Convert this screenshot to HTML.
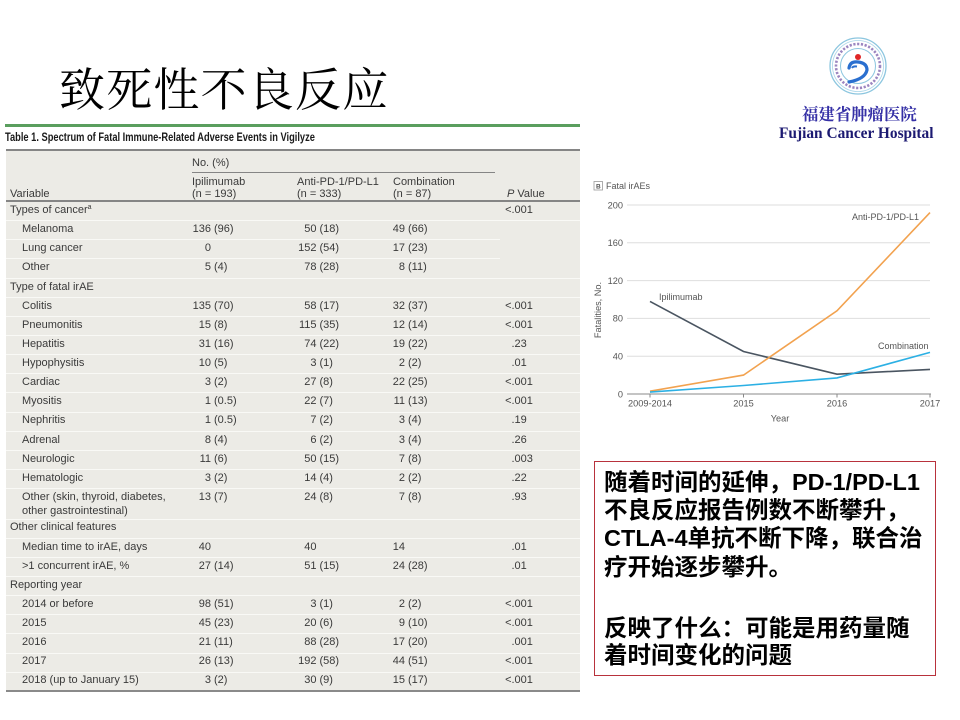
<!DOCTYPE html>
<html><head><meta charset="utf-8">
<style>
*{margin:0;padding:0;box-sizing:border-box}
html,body{width:960px;height:720px;background:#fff;overflow:hidden}
body{position:relative;font-family:"Liberation Sans","Noto Sans CJK SC",sans-serif}
.abs{position:absolute}
.title{position:absolute;left:59px;top:66px;font:46px/50px "Liberation Serif","Noto Serif CJK SC",serif;letter-spacing:1.2px;color:#000;white-space:nowrap}
.ttl{position:absolute;left:5px;top:129px;font:bold 12px/16px "Liberation Sans",sans-serif;color:#1a1a1a;white-space:nowrap;transform:scaleX(0.775);transform-origin:0 0}
.hd{position:absolute;font:11px/12px "Liberation Sans",sans-serif;color:#3a3a3a;white-space:nowrap}
.row{position:absolute;left:0;width:960px;height:19px;font:11px/19px "Liberation Sans",sans-serif;color:#3a3a3a}
.row span{position:absolute;top:0;white-space:nowrap}
.g{left:10px}.s{left:22px}
.i1{left:171px;width:40px;text-align:right}.q1{left:214px}
.i2{left:276.5px;width:40px;text-align:right}.q2{left:319.5px}
.i3{left:365px;width:40px;text-align:right}.q3{left:408px}
.pl{left:471.5px;width:40px;text-align:right}.pr{left:511.5px}
.ln{position:absolute;left:6px;width:574px;height:1px;background:#f9f9f6}
.box{position:absolute;left:594px;top:461px;width:342px;height:215px;border:1px solid #b8323c;background:#fff}
.bl{position:absolute;left:604px;font:bold 23.5px/28px "Liberation Sans","Noto Sans CJK SC",sans-serif;color:#000;white-space:nowrap}
</style></head><body>

<div class="title">致死性不良反应</div>

<!-- green rule + table caption -->
<div class="abs" style="left:5px;top:124px;width:575px;height:2.5px;background:#5a9e5e"></div>
<div class="ttl">Table 1. Spectrum of Fatal Immune-Related Adverse Events in Vigilyze</div>

<!-- table background and rules -->
<div class="abs" style="left:6px;top:150px;width:574px;height:541px;background:#ecebe6"></div>
<div class="abs" style="left:6px;top:149px;width:574px;height:1.5px;background:#858585"></div>
<div class="abs" style="left:192px;top:171.5px;width:303px;height:1.5px;background:#858585"></div>
<div class="abs" style="left:6px;top:200px;width:574px;height:1.5px;background:#858585"></div>
<div class="abs" style="left:6px;top:690px;width:574px;height:2px;background:#8a8a8a"></div>

<!-- header -->
<div class="hd" style="left:192px;top:157px">No. (%)</div>
<div class="hd" style="left:192px;top:175.5px">Ipilimumab</div>
<div class="hd" style="left:192px;top:187.5px">(n = 193)</div>
<div class="hd" style="left:297px;top:175.5px">Anti-PD-1/PD-L1</div>
<div class="hd" style="left:297px;top:187.5px">(n = 333)</div>
<div class="hd" style="left:393px;top:175.5px">Combination</div>
<div class="hd" style="left:393px;top:187.5px">(n = 87)</div>
<div class="hd" style="left:10px;top:187.5px">Variable</div>
<div class="hd" style="left:507px;top:187.5px"><i>P</i> Value</div>

<!-- row separators -->
<div class="ln" style="top:220px"></div>
<div class="ln" style="top:239px;width:494px"></div>
<div class="ln" style="top:258px;width:494px"></div>
<div class="ln" style="top:277.5px"></div>
<div class="ln" style="top:296.5px"></div>
<div class="ln" style="top:315.5px"></div>
<div class="ln" style="top:335px"></div>
<div class="ln" style="top:354px"></div>
<div class="ln" style="top:373px"></div>
<div class="ln" style="top:392px"></div>
<div class="ln" style="top:411.5px"></div>
<div class="ln" style="top:430.5px"></div>
<div class="ln" style="top:449.5px"></div>
<div class="ln" style="top:469px"></div>
<div class="ln" style="top:488px"></div>
<div class="ln" style="top:518.5px"></div>
<div class="ln" style="top:537.5px"></div>
<div class="ln" style="top:556.5px"></div>
<div class="ln" style="top:576px"></div>
<div class="ln" style="top:595px"></div>
<div class="ln" style="top:614px"></div>
<div class="ln" style="top:633px"></div>
<div class="ln" style="top:652.5px"></div>
<div class="ln" style="top:671.5px"></div>

<!-- rows -->
<div class="row" style="top:201px"><span class="g">Types of cancer<span style="position:relative;top:-4px;font-size:7px;line-height:7px">a</span></span><span class="pl">&lt;</span><span class="pr">.001</span></div>
<div class="row" style="top:220.13px"><span class="s">Melanoma</span><span class="i1">136</span><span class="q1">(96)</span><span class="i2">50</span><span class="q2">(18)</span><span class="i3">49</span><span class="q3">(66)</span></div>
<div class="row" style="top:239.26px"><span class="s">Lung cancer</span><span class="i1">0</span><span class="i2">152</span><span class="q2">(54)</span><span class="i3">17</span><span class="q3">(23)</span></div>
<div class="row" style="top:258.39px"><span class="s">Other</span><span class="i1">5</span><span class="q1">(4)</span><span class="i2">78</span><span class="q2">(28)</span><span class="i3">8</span><span class="q3">(11)</span></div>
<div class="row" style="top:277.52px"><span class="g">Type of fatal irAE</span></div>
<div class="row" style="top:296.65px"><span class="s">Colitis</span><span class="i1">135</span><span class="q1">(70)</span><span class="i2">58</span><span class="q2">(17)</span><span class="i3">32</span><span class="q3">(37)</span><span class="pl">&lt;</span><span class="pr">.001</span></div>
<div class="row" style="top:315.78px"><span class="s">Pneumonitis</span><span class="i1">15</span><span class="q1">(8)</span><span class="i2">115</span><span class="q2">(35)</span><span class="i3">12</span><span class="q3">(14)</span><span class="pl">&lt;</span><span class="pr">.001</span></div>
<div class="row" style="top:334.91px"><span class="s">Hepatitis</span><span class="i1">31</span><span class="q1">(16)</span><span class="i2">74</span><span class="q2">(22)</span><span class="i3">19</span><span class="q3">(22)</span><span class="pr">.23</span></div>
<div class="row" style="top:354.04px"><span class="s">Hypophysitis</span><span class="i1">10</span><span class="q1">(5)</span><span class="i2">3</span><span class="q2">(1)</span><span class="i3">2</span><span class="q3">(2)</span><span class="pr">.01</span></div>
<div class="row" style="top:373.17px"><span class="s">Cardiac</span><span class="i1">3</span><span class="q1">(2)</span><span class="i2">27</span><span class="q2">(8)</span><span class="i3">22</span><span class="q3">(25)</span><span class="pl">&lt;</span><span class="pr">.001</span></div>
<div class="row" style="top:392.30px"><span class="s">Myositis</span><span class="i1">1</span><span class="q1">(0.5)</span><span class="i2">22</span><span class="q2">(7)</span><span class="i3">11</span><span class="q3">(13)</span><span class="pl">&lt;</span><span class="pr">.001</span></div>
<div class="row" style="top:411.43px"><span class="s">Nephritis</span><span class="i1">1</span><span class="q1">(0.5)</span><span class="i2">7</span><span class="q2">(2)</span><span class="i3">3</span><span class="q3">(4)</span><span class="pr">.19</span></div>
<div class="row" style="top:430.56px"><span class="s">Adrenal</span><span class="i1">8</span><span class="q1">(4)</span><span class="i2">6</span><span class="q2">(2)</span><span class="i3">3</span><span class="q3">(4)</span><span class="pr">.26</span></div>
<div class="row" style="top:449.69px"><span class="s">Neurologic</span><span class="i1">11</span><span class="q1">(6)</span><span class="i2">50</span><span class="q2">(15)</span><span class="i3">7</span><span class="q3">(8)</span><span class="pr">.003</span></div>
<div class="row" style="top:468.82px"><span class="s">Hematologic</span><span class="i1">3</span><span class="q1">(2)</span><span class="i2">14</span><span class="q2">(4)</span><span class="i3">2</span><span class="q3">(2)</span><span class="pr">.22</span></div>
<div class="row" style="top:487.95px;height:30.5px"><span class="s" style="top:2.5px;line-height:14px">Other (skin, thyroid, diabetes,<br>other gastrointestinal)</span><span class="i1">13</span><span class="q1">(7)</span><span class="i2">24</span><span class="q2">(8)</span><span class="i3">7</span><span class="q3">(8)</span><span class="pr">.93</span></div>
<div class="row" style="top:518.45px"><span class="g">Other clinical features</span></div>
<div class="row" style="top:537.58px"><span class="s">Median time to irAE, days</span><span class="i1">40</span><span class="i2">40</span><span class="i3">14</span><span class="pr">.01</span></div>
<div class="row" style="top:556.71px"><span class="s">&gt;1 concurrent irAE, %</span><span class="i1">27</span><span class="q1">(14)</span><span class="i2">51</span><span class="q2">(15)</span><span class="i3">24</span><span class="q3">(28)</span><span class="pr">.01</span></div>
<div class="row" style="top:575.84px"><span class="g">Reporting year</span></div>
<div class="row" style="top:594.97px"><span class="s">2014 or before</span><span class="i1">98</span><span class="q1">(51)</span><span class="i2">3</span><span class="q2">(1)</span><span class="i3">2</span><span class="q3">(2)</span><span class="pl">&lt;</span><span class="pr">.001</span></div>
<div class="row" style="top:614.10px"><span class="s">2015</span><span class="i1">45</span><span class="q1">(23)</span><span class="i2">20</span><span class="q2">(6)</span><span class="i3">9</span><span class="q3">(10)</span><span class="pl">&lt;</span><span class="pr">.001</span></div>
<div class="row" style="top:633.23px"><span class="s">2016</span><span class="i1">21</span><span class="q1">(11)</span><span class="i2">88</span><span class="q2">(28)</span><span class="i3">17</span><span class="q3">(20)</span><span class="pr">.001</span></div>
<div class="row" style="top:652.36px"><span class="s">2017</span><span class="i1">26</span><span class="q1">(13)</span><span class="i2">192</span><span class="q2">(58)</span><span class="i3">44</span><span class="q3">(51)</span><span class="pl">&lt;</span><span class="pr">.001</span></div>
<div class="row" style="top:671.49px"><span class="s">2018 (up to January 15)</span><span class="i1">3</span><span class="q1">(2)</span><span class="i2">30</span><span class="q2">(9)</span><span class="i3">15</span><span class="q3">(17)</span><span class="pl">&lt;</span><span class="pr">.001</span></div>

<!-- logo text -->
<div class="abs" style="left:802px;top:105px;font:bold 16.4px/20px 'Liberation Serif','Noto Serif CJK SC',serif;color:#3530a6;white-space:nowrap">福建省肿瘤医院</div>
<div class="abs" style="left:779px;top:124.5px;font:bold 15.4px/18px 'Liberation Serif',serif;color:#1c1a72;white-space:nowrap">Fujian Cancer Hospital</div>

<!-- chart + logo graphics -->
<svg class="abs" style="left:0;top:0" width="960" height="720" viewBox="0 0 960 720" font-family="Liberation Sans, sans-serif">
  <!-- logo -->
  <circle cx="858" cy="66" r="28" fill="#fff" stroke="#8cc6df" stroke-width="1.3"/>
  <circle cx="858" cy="66" r="25.5" fill="none" stroke="#a9d5e8" stroke-width="0.8"/>
  <circle cx="858" cy="66" r="22" fill="none" stroke="#9b86c0" stroke-width="2.6" stroke-dasharray="2.2 1.6"/>
  <circle cx="858" cy="66" r="17.5" fill="none" stroke="#8cc6df" stroke-width="1"/>
  <circle cx="858" cy="57" r="3" fill="#e02626"/>
  <path d="M849 68 Q850 61 858 62 Q867 63 867 70 Q865 79 849 82" fill="none" stroke="#2a6fcf" stroke-width="3.2" stroke-linecap="round"/>
  <path d="M852 68 Q853 66 857 66.5" fill="none" stroke="#2a6fcf" stroke-width="2"/>

  <!-- chart header -->
  <rect x="594" y="181.5" width="8.5" height="8.5" fill="#fff" stroke="#999" stroke-width="0.8"/>
  <text x="598.3" y="188.4" font-size="6.5" font-weight="bold" text-anchor="middle" fill="#555">B</text>
  <text x="606" y="189.2" font-size="9" fill="#555">Fatal irAEs</text>

  <!-- grid -->
  <g stroke="#dedede" stroke-width="1">
    <line x1="627" y1="205" x2="930" y2="205"/>
    <line x1="627" y1="242.8" x2="930" y2="242.8"/>
    <line x1="627" y1="280.6" x2="930" y2="280.6"/>
    <line x1="627" y1="318.4" x2="930" y2="318.4"/>
    <line x1="627" y1="356.2" x2="930" y2="356.2"/>
  </g>
  <line x1="627" y1="394" x2="931" y2="394" stroke="#888" stroke-width="1"/>
  <g stroke="#888" stroke-width="1">
    <line x1="650" y1="394" x2="650" y2="397.5"/>
    <line x1="743.5" y1="394" x2="743.5" y2="397.5"/>
    <line x1="837" y1="394" x2="837" y2="397.5"/>
    <line x1="930" y1="394" x2="930" y2="397.5"/>
  </g>
  <g font-size="9.2" fill="#555" text-anchor="end">
    <text x="623" y="208.3">200</text>
    <text x="623" y="246.1">160</text>
    <text x="623" y="283.9">120</text>
    <text x="623" y="321.7">80</text>
    <text x="623" y="359.5">40</text>
    <text x="623" y="397.3">0</text>
  </g>
  <g font-size="9.2" fill="#555" text-anchor="middle">
    <text x="650" y="406.5">2009-2014</text>
    <text x="743.5" y="406.5">2015</text>
    <text x="837" y="406.5">2016</text>
    <text x="930" y="406.5">2017</text>
    <text x="780" y="421.5">Year</text>
  </g>
  <text transform="translate(601 310) rotate(-90)" font-size="9.2" fill="#555" text-anchor="middle">Fatalities, No.</text>

  <!-- series -->
  <polyline points="650,301.4 743.5,351.5 837,374.2 930,369.4" fill="none" stroke="#4a5561" stroke-width="1.6"/>
  <polyline points="650,391.2 743.5,375.1 837,310.8 930,212.6" fill="none" stroke="#f2a24f" stroke-width="1.6"/>
  <polyline points="650,392.1 743.5,385.5 837,377.9 930,352.4" fill="none" stroke="#2cb0e4" stroke-width="1.6"/>

  <g font-size="9" fill="#555">
    <text x="852" y="220.2">Anti-PD-1/PD-L1</text>
    <text x="659" y="300.2">Ipilimumab</text>
    <text x="878" y="349.2">Combination</text>
  </g>
</svg>

<!-- text box -->
<div class="box"></div>
<div class="bl" style="top:468px">随着时间的延伸，PD-1/PD-L1</div>
<div class="bl" style="top:496px">不良反应报告例数不断攀升，</div>
<div class="bl" style="top:524px">CTLA-4单抗不断下降，联合治</div>
<div class="bl" style="top:553px">疗开始逐步攀升。</div>
<div class="bl" style="top:614px">反映了什么：可能是用药量随</div>
<div class="bl" style="top:641px">着时间变化的问题</div>

</body></html>
